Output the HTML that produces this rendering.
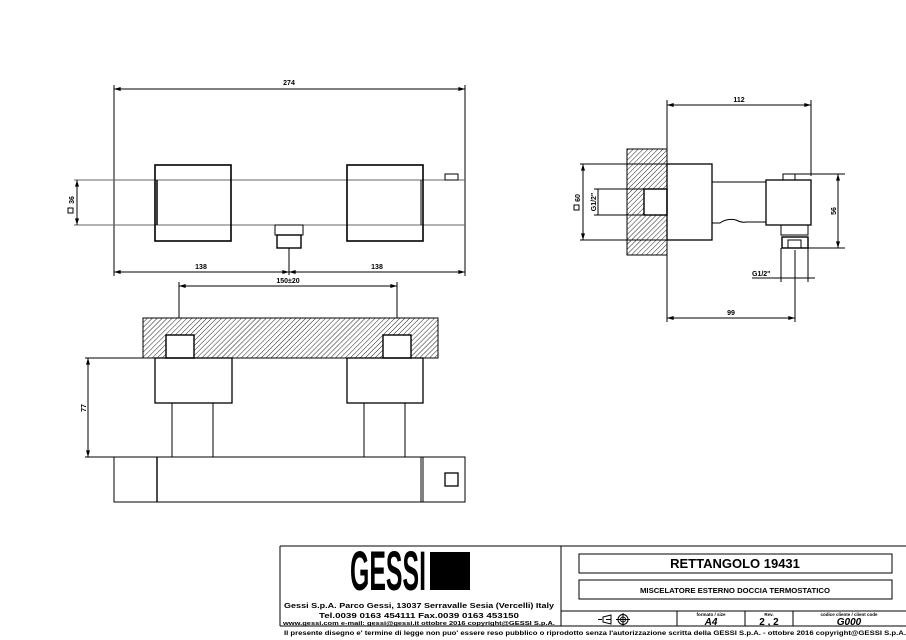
<!DOCTYPE html>
<html><head><meta charset="utf-8"><style>
html,body{margin:0;padding:0;background:#fff;}
svg{display:block;}
text{font-family:"Liberation Sans",sans-serif;font-weight:bold;fill:#000;}
</style></head><body>
<svg width="906" height="640" viewBox="0 0 906 640" xmlns="http://www.w3.org/2000/svg">
<defs>
<pattern id="h" patternUnits="userSpaceOnUse" width="3.5" height="3.5" patternTransform="rotate(45)">
<rect width="3.5" height="3.5" fill="#fff"/><line x1="0" y1="0" x2="0" y2="3.5" stroke="#222" stroke-width="1"/>
</pattern>
<marker id="a" viewBox="0 0 10 6" refX="10" refY="3" markerWidth="8" markerHeight="4" orient="auto-start-reverse"><path d="M0,0L10,3L0,6z" fill="#000"/></marker>
</defs>
<g fill="none" stroke="#000" stroke-width="1">
<!-- FRONT VIEW -->
<line x1="114" y1="85" x2="114" y2="276"/>
<line x1="465" y1="85" x2="465" y2="276"/>
<line x1="114" y1="89" x2="465" y2="89" marker-start="url(#a)" marker-end="url(#a)"/>
<line x1="74" y1="180" x2="465" y2="180" stroke="#666"/>
<line x1="74" y1="225" x2="465" y2="225" stroke="#666"/>
<line x1="77" y1="180" x2="77" y2="225" marker-start="url(#a)" marker-end="url(#a)"/>
<rect x="155" y="165" width="76" height="76" stroke-width="1.6"/>
<rect x="347" y="165" width="76" height="76" stroke-width="1.6"/>
<line x1="157" y1="180" x2="157" y2="225" stroke-width="1.5"/>
<line x1="421" y1="180" x2="421" y2="225"/>
<rect x="445" y="174" width="13" height="6"/>
<rect x="275" y="225" width="28" height="10"/>
<rect x="277" y="235" width="24" height="13" stroke-width="1.4"/>
<line x1="289" y1="248" x2="289" y2="275"/>
<line x1="114" y1="272" x2="289" y2="272" marker-start="url(#a)" marker-end="url(#a)"/>
<line x1="289" y1="272" x2="465" y2="272" marker-start="url(#a)" marker-end="url(#a)"/>
<line x1="179" y1="282" x2="179" y2="337"/>
<line x1="397" y1="282" x2="397" y2="337"/>
<line x1="179" y1="286" x2="397" y2="286" marker-start="url(#a)" marker-end="url(#a)"/>
<!-- TOP VIEW -->
<rect x="143" y="318" width="295" height="40" fill="url(#h)"/>
<rect x="166" y="335" width="28" height="23" fill="#fff" stroke-width="1.4"/>
<rect x="383" y="335" width="28" height="23" fill="#fff" stroke-width="1.4"/>
<rect x="155" y="358" width="77" height="45" stroke-width="1.3"/>
<rect x="347" y="358" width="76" height="45" stroke-width="1.3"/>
<line x1="172" y1="403" x2="172" y2="457"/><line x1="213" y1="403" x2="213" y2="457"/>
<line x1="364" y1="403" x2="364" y2="457"/><line x1="405" y1="403" x2="405" y2="457"/>
<rect x="114" y="457" width="351" height="45"/>
<line x1="157" y1="457" x2="157" y2="502" stroke-width="1.4"/>
<line x1="421" y1="457" x2="421" y2="502"/><line x1="423" y1="457" x2="423" y2="502"/>
<rect x="445" y="473" width="13" height="13" stroke-width="1.3"/>
<line x1="85" y1="358" x2="143" y2="358"/>
<line x1="85" y1="457" x2="114" y2="457"/>
<line x1="88" y1="358" x2="88" y2="457" marker-start="url(#a)" marker-end="url(#a)"/>
<!-- SIDE VIEW -->
<line x1="667" y1="100" x2="667" y2="322"/>
<line x1="811" y1="100" x2="811" y2="176"/>
<line x1="667" y1="105" x2="811" y2="105" marker-start="url(#a)" marker-end="url(#a)"/>
<rect x="627" y="149" width="40" height="106" fill="url(#h)"/>
<rect x="644" y="189" width="23" height="26" fill="#fff" stroke-width="1.4"/>
<line x1="580" y1="164" x2="667" y2="164"/>
<line x1="580" y1="240" x2="667" y2="240"/>
<line x1="594" y1="189" x2="644" y2="189"/>
<line x1="594" y1="215" x2="644" y2="215"/>
<line x1="583" y1="164" x2="583" y2="240" marker-start="url(#a)" marker-end="url(#a)"/>
<line x1="598" y1="189" x2="598" y2="215"/>
<rect x="667" y="164" width="45" height="76" stroke-width="1.3"/>
<line x1="712" y1="182" x2="766" y2="182"/>
<path d="M712,223 L720,223 Q727,218 736,220 Q742,223 746,222 L766,222"/>
<rect x="766" y="180" width="45" height="45" stroke-width="1.3"/>
<rect x="783" y="174" width="12" height="6"/>
<line x1="795" y1="174" x2="845" y2="174"/>
<rect x="781" y="225" width="27" height="10"/>
<rect x="782" y="237" width="26" height="11" stroke-width="1.4"/>
<rect x="788" y="240" width="13" height="8"/>
<line x1="808" y1="248" x2="845" y2="248"/>
<line x1="838" y1="174" x2="838" y2="248" marker-start="url(#a)" marker-end="url(#a)"/>
<line x1="781" y1="248" x2="781" y2="282"/>
<line x1="808" y1="248" x2="808" y2="282"/>
<line x1="795" y1="250" x2="795" y2="322"/>
<line x1="752" y1="278" x2="815" y2="278"/>
<line x1="667" y1="318" x2="795" y2="318" marker-start="url(#a)" marker-end="url(#a)"/>
<!-- square symbols -->
<rect x="68" y="208" width="5" height="5"/>
<rect x="574" y="205" width="5" height="5"/>
<!-- TITLE BLOCK -->
<line x1="280" y1="546" x2="906" y2="546"/>
<line x1="280" y1="546" x2="280" y2="626"/>
<line x1="561" y1="546" x2="561" y2="626"/>
<line x1="561" y1="611" x2="906" y2="611"/>
<line x1="280" y1="626" x2="906" y2="626"/>
<line x1="677" y1="611" x2="677" y2="626"/>
<line x1="745" y1="611" x2="745" y2="626"/>
<line x1="793" y1="611" x2="793" y2="626"/>
<rect x="579" y="554" width="313" height="19"/>
<rect x="579" y="580" width="313" height="19"/>
<path d="M611,615 L603,617 L603,622 L611,624 Z M606,619.5 L611,619.5 M598,619.5 L602,619.5"/>
<circle cx="623" cy="619.5" r="5"/><circle cx="623" cy="619.5" r="2.5"/>
<line x1="616" y1="619.5" x2="630" y2="619.5"/><line x1="623" y1="613" x2="623" y2="626"/>
</g>
<g font-size="7">
<text x="289" y="85" text-anchor="middle">274</text>
<text x="201" y="269" text-anchor="middle">138</text>
<text x="377" y="269" text-anchor="middle">138</text>
<text x="288" y="283" text-anchor="middle">150±20</text>
<text x="739" y="102" text-anchor="middle">112</text>
<text x="731" y="315" text-anchor="middle">99</text>
<text x="752" y="276">G1/2"</text>
<text transform="translate(74,200) rotate(-90)" text-anchor="middle">36</text>
<text transform="translate(86,408) rotate(-90)" text-anchor="middle">77</text>
<text transform="translate(580,198) rotate(-90)" text-anchor="middle">60</text>
<text transform="translate(596,202) rotate(-90)" text-anchor="middle">G1/2"</text>
<text transform="translate(836,211) rotate(-90)" text-anchor="middle">56</text>
</g>
<!-- logo -->
<text x="388" y="590" font-size="56" text-anchor="middle" textLength="76" lengthAdjust="spacingAndGlyphs">GESSI</text>
<rect x="430" y="552" width="40" height="38" fill="#000"/>
<text x="419" y="608" font-size="7.5" text-anchor="middle" textLength="270" lengthAdjust="spacingAndGlyphs">Gessi S.p.A. Parco Gessi, 13037 Serravalle Sesia (Vercelli) Italy</text>
<text x="419" y="618" font-size="7.5" text-anchor="middle" textLength="200" lengthAdjust="spacingAndGlyphs">Tel.0039 0163 454111 Fax.0039 0163 453150</text>
<text x="419" y="625" font-size="5.5" text-anchor="middle" textLength="272" lengthAdjust="spacingAndGlyphs">www.gessi.com e-mail: gessi@gessi.it ottobre 2016 copyright@GESSI S.p.A.</text>
<text x="735" y="568" font-size="13" text-anchor="middle">RETTANGOLO 19431</text>
<text x="735" y="593" font-size="7" text-anchor="middle" textLength="190" lengthAdjust="spacingAndGlyphs">MISCELATORE ESTERNO DOCCIA TERMOSTATICO</text>
<text x="711" y="616" font-size="4.5" text-anchor="middle">formato / size</text>
<text x="711" y="625" font-size="10" text-anchor="middle" font-style="italic">A4</text>
<text x="769" y="616" font-size="4.5" text-anchor="middle">Rev.</text>
<text x="769" y="625" font-size="10" text-anchor="middle">2 , 2</text>
<text x="849" y="616" font-size="4.5" text-anchor="middle">codice cliente / client code</text>
<text x="849" y="625" font-size="10" text-anchor="middle" font-style="italic">G000</text>
<text x="284" y="635" font-size="6.5" textLength="622" lengthAdjust="spacingAndGlyphs">Il presente disegno e' termine di legge non puo' essere reso pubblico o riprodotto senza l'autorizzazione scritta della GESSI S.p.A. - ottobre 2016 copyright@GESSI S.p.A.</text>
</svg>
</body></html>
